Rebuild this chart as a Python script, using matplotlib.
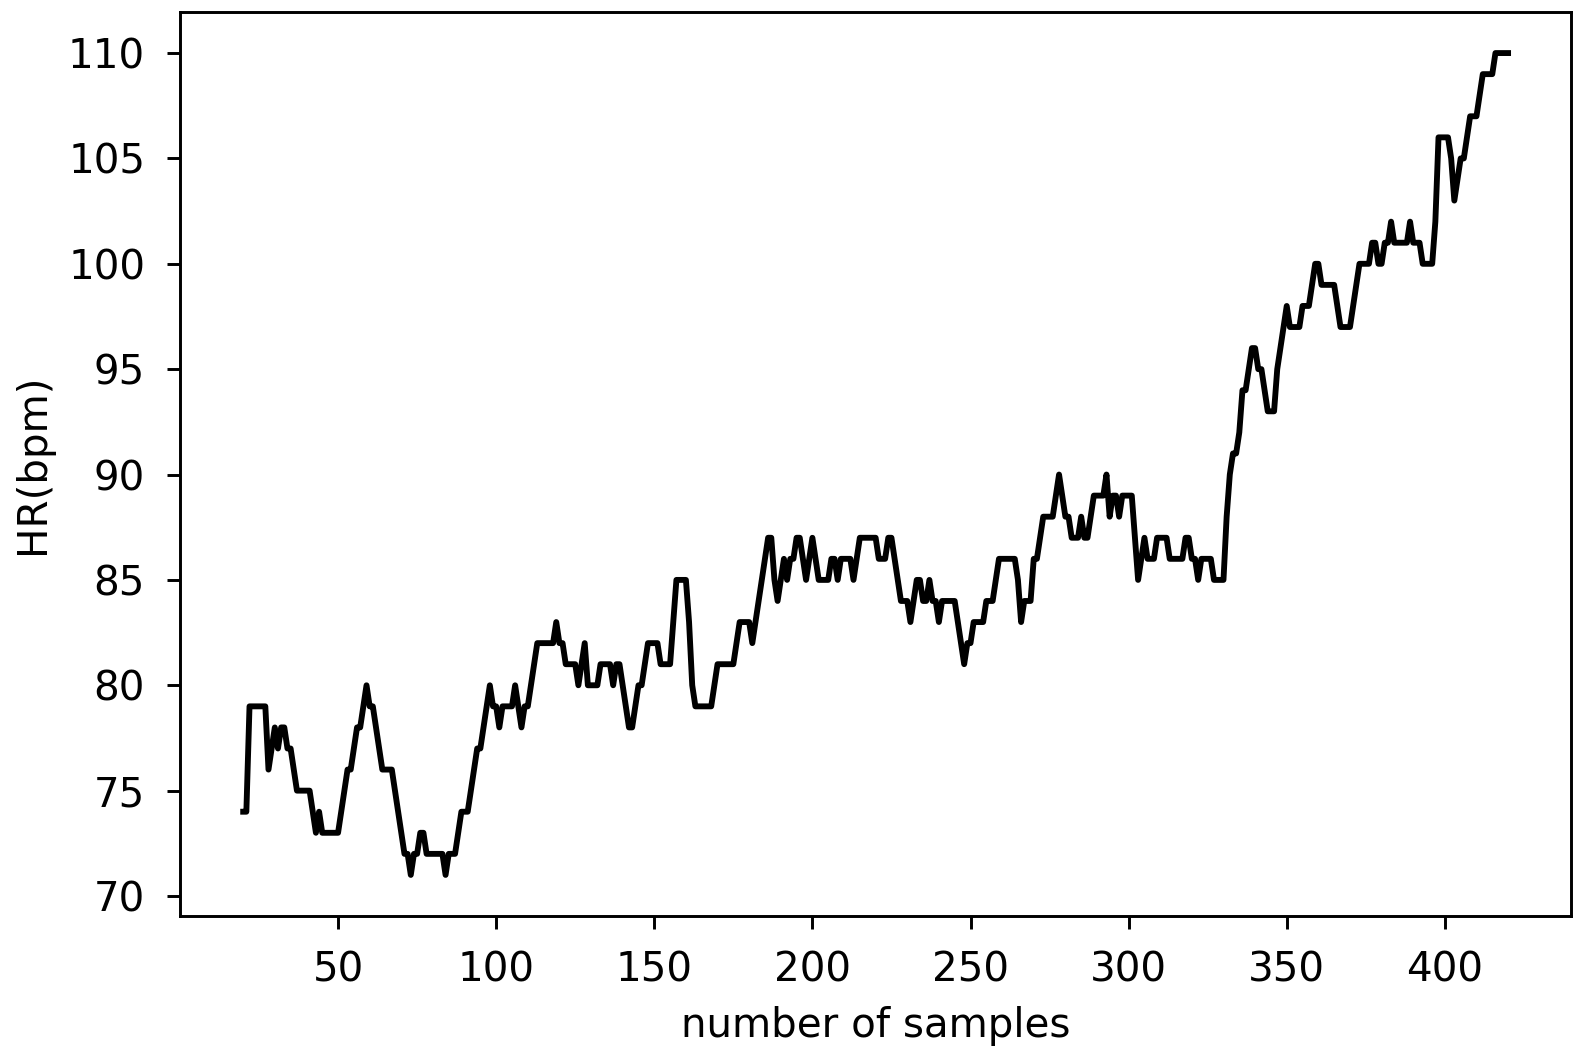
import numpy as np
import matplotlib
matplotlib.use("Agg")
import matplotlib.pyplot as plt

# heart rate, stored as (bpm, number of samples) runs
hr_runs = [
    (74, 2), (79, 6), (76, 1), (77, 1), (78, 1), (77, 1), (78, 2), (77, 2), (76, 1),
    (75, 5), (74, 1), (73, 1), (74, 1), (73, 6), (74, 1), (75, 1), (76, 2), (77, 1),
    (78, 2), (79, 1), (80, 1), (79, 2), (78, 1), (77, 1), (76, 4), (75, 1), (74, 1),
    (73, 1), (72, 2), (71, 1), (72, 2), (73, 2), (72, 6), (71, 1), (72, 3), (73, 1),
    (74, 3), (75, 1), (76, 1), (77, 2), (78, 1), (79, 1), (80, 1), (79, 2), (78, 1),
    (79, 4), (80, 1), (79, 1), (78, 1), (79, 2), (80, 1), (81, 1), (82, 6), (83, 1),
    (82, 2), (81, 4), (80, 1), (81, 1), (82, 1), (80, 4), (81, 4), (80, 1), (81, 2),
    (80, 1), (79, 1), (78, 2), (79, 1), (80, 2), (81, 1), (82, 4), (81, 4), (83, 1),
    (85, 4), (83, 1), (80, 1), (79, 6), (80, 1), (81, 6), (82, 1), (83, 4), (82, 1),
    (83, 1), (84, 1), (85, 1), (86, 1), (87, 2), (85, 1), (84, 1), (85, 1), (86, 1),
    (85, 1), (86, 2), (87, 2), (86, 1), (85, 1), (86, 1), (87, 1), (86, 1), (85, 4),
    (86, 2), (85, 1), (86, 4), (85, 1), (86, 1), (87, 6), (86, 3), (87, 2), (86, 1),
    (85, 1), (84, 3), (83, 1), (84, 1), (85, 2), (84, 2), (85, 1), (84, 2), (83, 1),
    (84, 5), (83, 1), (82, 1), (81, 1), (82, 2), (83, 4), (84, 3), (85, 1), (86, 6),
    (85, 1), (83, 1), (84, 3), (86, 2), (87, 1), (88, 4), (89, 1), (90, 1), (89, 1),
    (88, 2), (87, 3), (88, 1), (87, 2), (88, 1), (89, 4), (90, 1), (88, 1), (89, 2),
    (88, 1), (89, 4), (87, 1), (85, 1), (86, 1), (87, 1), (86, 3), (87, 4), (86, 5),
    (87, 2), (86, 2), (85, 1), (86, 4), (85, 4), (88, 1), (90, 1), (91, 2), (92, 1),
    (94, 2), (95, 1), (96, 2), (95, 2), (94, 1), (93, 3), (95, 1), (96, 1), (97, 1),
    (98, 1), (97, 4), (98, 3), (99, 1), (100, 2), (99, 5), (98, 1), (97, 4), (98, 1),
    (99, 1), (100, 4), (101, 2), (100, 2), (101, 2), (102, 1), (101, 5), (102, 1),
    (101, 3), (100, 4), (102, 1), (106, 4), (105, 1), (103, 1), (104, 1), (105, 2),
    (106, 1), (107, 3), (108, 1), (109, 4), (110, 5),
]
first_sample = 20
x_ticks = [50, 100, 150, 200, 250, 300, 350, 400]

hr = np.concatenate([np.full(n, v) for v, n in hr_runs])
samples = np.arange(first_sample, first_sample + len(hr))

fig = plt.figure(figsize=(6, 1059 / 264), dpi=264)
ax = fig.add_axes([0.1136, 0.135, 0.992 - 0.1136, 0.9887 - 0.135])
ax.plot(samples, hr, color='black', linewidth=1.6)
ax.set_xticks(x_ticks)
ax.set_xlabel('number of samples', fontsize=11)
ax.set_ylabel('HR(bpm)', fontsize=11)
ax.tick_params(labelsize=11, pad=6)

fig.savefig('out.png', dpi=264)
